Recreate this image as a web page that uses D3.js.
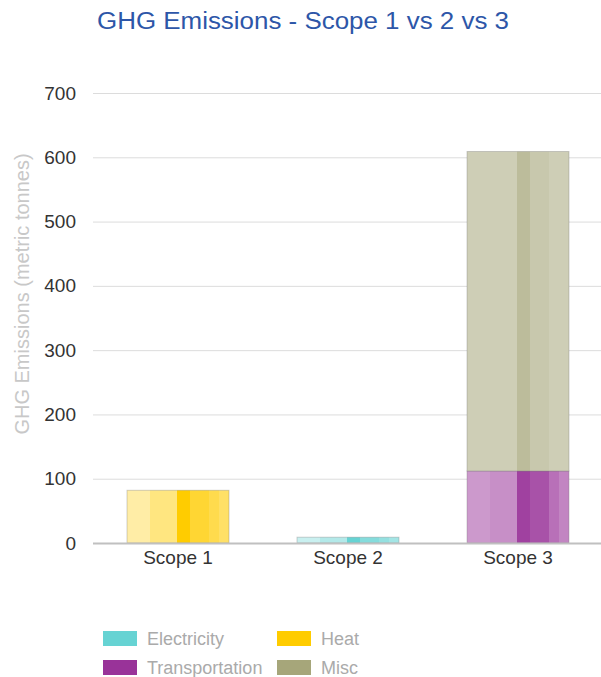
<!DOCTYPE html>
<meta charset="utf-8">
<style>
body { margin: 0; background: #fff; }
text { font-family: "Liberation Sans", Arial, sans-serif; }
.grid line { stroke: #dcdcdc; }
</style>
<svg width="601" height="677"></svg>
<script src="https://d3js.org/d3.v7.min.js"></script>
<script>
var svg = d3.select("svg");

var categories = ["Scope 1", "Scope 2", "Scope 3"];
var seriesNames = ["Electricity", "Heat", "Transportation", "Misc"];
var seriesColors = ["#66d3d3", "#ffcc00", "#993399", "#a6a67a"];
// values per series, one per category
var electricity = [0, 9, 0];
var heat = [82, 0, 0];
var transportation = [0, 0, 112];
var misc = [0, 0, 497];
var yTicks = [0, 100, 200, 300, 400, 500, 600, 700];

var rows = categories.map(function(c, i) {
  return {cat: c, Electricity: electricity[i], Heat: heat[i], Transportation: transportation[i], Misc: misc[i]};
});

var x = d3.scaleBand().domain(categories).range([93, 603]).paddingInner(0.4).paddingOuter(0.2);
var y = d3.scaleLinear().domain([0, 700]).range([543, 93]);

// title
svg.append("text")
  .attr("x", 303).attr("y", 29)
  .attr("text-anchor", "middle")
  .attr("fill", "#2d56a8")
  .attr("textLength", 412)
  .attr("lengthAdjust", "spacingAndGlyphs")
  .style("font-size", "23px")
  .text("GHG Emissions - Scope 1 vs 2 vs 3");

// grid
svg.append("g").attr("class", "grid")
  .selectAll("line").data(yTicks.slice(1)).enter().append("line")
  .attr("x1", 93).attr("x2", 601)
  .attr("y1", function(d) { return y(d) + 0.5; })
  .attr("y2", function(d) { return y(d) + 0.5; });

var yAxis = svg.append("g")
  .attr("transform", "translate(93,0)")
  .call(d3.axisLeft(y).tickValues(yTicks).tickSize(0).tickPadding(17));
yAxis.select(".domain").remove();
yAxis.selectAll("text").attr("fill", "#333").style("font-size", "19px")
  .attr("font-family", null);

svg.append("text")
  .attr("transform", "translate(29,294) rotate(-90)")
  .attr("text-anchor", "middle")
  .attr("fill", "#c8c8c8")
  .style("font-size", "20px")
  .text("GHG Emissions (metric tonnes)");

// stripe gradients (vertical bands of varying strength)
var defs = svg.append("defs");
var stripePos = [0, 0.23, 0.49, 0.62, 0.8, 0.9];
var stripeOp = {
  Electricity: [0.35, 0.5, 1, 0.8, 0.7, 0.6],
  Heat: [0.35, 0.5, 1, 0.8, 0.7, 0.6],
  Transportation: [0.5, 0.55, 0.93, 0.85, 0.7, 0.6],
  Misc: [0.55, 0.55, 0.75, 0.62, 0.55, 0.55]
};
seriesNames.forEach(function(s, i) {
  var g = defs.append("linearGradient").attr("id", "g" + i)
    .attr("x1", "0%").attr("x2", "100%").attr("y1", "0%").attr("y2", "0%");
  stripePos.forEach(function(p, j) {
    var end = j + 1 < stripePos.length ? stripePos[j + 1] : 1;
    var c = d3.interpolateRgb("#ffffff", seriesColors[i])(stripeOp[s][j]);
    g.append("stop").attr("offset", p).attr("stop-color", c);
    g.append("stop").attr("offset", end).attr("stop-color", c);
  });
});

var stack = d3.stack().keys(seriesNames)(rows);
svg.append("g").selectAll("g").data(stack).enter().append("g")
  .attr("fill", function(d, i) { return "url(#g" + i + ")"; })
  .selectAll("rect").data(function(d) { return d; }).enter()
  .filter(function(d) { return d[1] - d[0] > 0; })
  .append("rect")
  .attr("x", function(d) { return x(d.data.cat); })
  .attr("width", x.bandwidth())
  .attr("y", function(d) { return y(d[1]); })
  .attr("height", function(d) { return y(d[0]) - y(d[1]); })
  .attr("stroke", "rgba(120,120,120,0.35)")
  .attr("stroke-width", 1);

// baseline
svg.append("line").attr("x1", 93).attr("x2", 601)
  .attr("y1", 543.5).attr("y2", 543.5).attr("stroke", "#c0c0c0").attr("stroke-width", 2);

var xAxis = svg.append("g")
  .attr("transform", "translate(0,543)")
  .call(d3.axisBottom(x).tickSize(0).tickPadding(8));
xAxis.select(".domain").remove();
xAxis.selectAll("text").attr("fill", "#333").style("font-size", "19px")
  .attr("font-family", null);

// legend
var legendPos = [[103, 631], [277, 631], [103, 660], [277, 660]];
var leg = svg.append("g").selectAll("g").data(seriesNames).enter().append("g")
  .attr("transform", function(d, i) { return "translate(" + legendPos[i][0] + "," + legendPos[i][1] + ")"; });
leg.append("rect").attr("width", 34).attr("height", 15)
  .attr("fill", function(d, i) { return seriesColors[i]; });
leg.append("text").attr("x", 44).attr("y", 14)
  .attr("fill", "#aaa").style("font-size", "18px")
  .text(function(d) { return d; });
</script>
